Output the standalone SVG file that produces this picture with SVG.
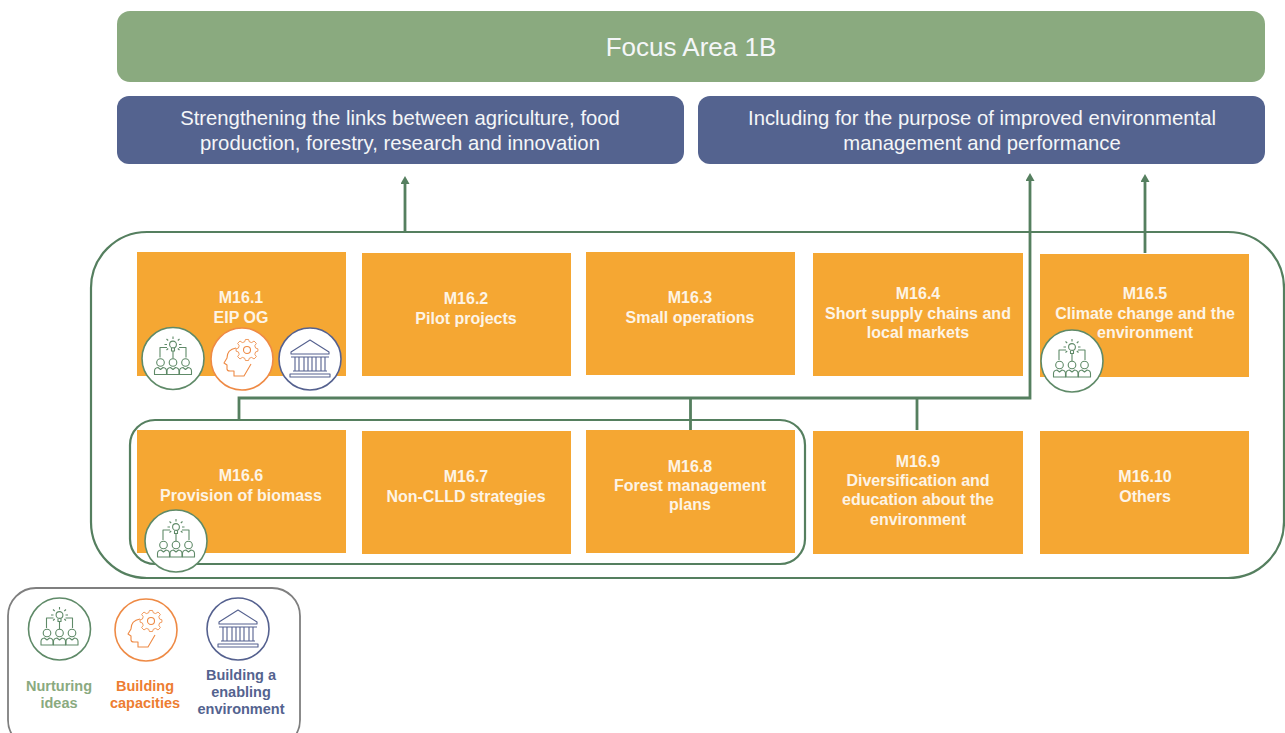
<svg xmlns="http://www.w3.org/2000/svg" width="1285" height="733" viewBox="0 0 1285 733">
<style>
text{font-family:"Liberation Sans",Arial,sans-serif;text-anchor:middle}
.m{fill:#f5a733}
.mt{font-size:16px;font-weight:700;fill:#fdf4e6}
.hd{font-size:20.300px;fill:#f4f6f8}
.lg{font-size:14.500px;font-weight:700}
.cn{fill:none;stroke:#557f5f;stroke-width:2.800}
.ol{fill:none;stroke:#557f5f;stroke-width:2.200}
.ic{fill:none;stroke-width:1.100;stroke-linejoin:round}
.g{stroke:#5f8a68}.o{stroke:#ee8a45}.b{stroke:#55618f}
.disc{fill:#fff;stroke-width:1.600}
</style>
<defs>
<marker id="ah" markerWidth="9" markerHeight="9" refX="1" refY="4.500" orient="auto" markerUnits="userSpaceOnUse" viewBox="0 0 9 9"><path d="M0 0L8 4.500L0 9Z" fill="#557f5f"/></marker>
<g id="ideas">
<circle class="disc g" r="31"/>
<g class="ic g">
<circle cx="0" cy="-14" r="3.400"/><path d="M-1.500-10.500V-7.500H1.500V-10.500M0-7.500V0"/>
<path d="M0-22V-19.500M-6.500-19.500L-4.800-18M6.500-19.500L4.800-18M-8.500-14H-6M8.500-14H6M-6.500-8.500L-4.800-10M6.500-8.500L4.800-10"/>
<path d="M-6-11H-13V-1M6-11H13V-1"/>
<circle cx="-12.500" cy="4" r="3.800"/><circle cx="0" cy="4" r="3.800"/><circle cx="12.500" cy="4" r="3.800"/>
<path d="M-18.500 16V12.500Q-18.500 9.500-15 9L-12.500 11L-10 9Q-6.500 9.500-6.500 12.500V16Z"/>
<path d="M-6 16V12.500Q-6 9.500-2.500 9L0 11L2.500 9Q6 9.500 6 12.500V16Z"/>
<path d="M6.500 16V12.500Q6.500 9.500 10 9L12.500 11L15 9Q18.500 9.500 18.500 12.500V16Z"/>
</g></g>
<g id="caps">
<circle class="disc o" r="31"/>
<g class="ic o">
<path d="M-6-11C-12-10-15-6-15-1L-18 4L-15 6V10Q-15 12-12 12H-8V17H2L9 5"/>
<circle cx="5" cy="-9" r="3.500"/>
<path transform="translate(5,-9) scale(.78) translate(-5,5.500)" d="M3-19H7L8-16L11-15L14-17L17-14L15-11L16-8L19-7V-4L16-3L15 0L17 3L14 6L11 4L8 5L7 8H3L2 5L-1 4L-4 6L-7 3L-5 0L-6-3L-9-4V-7L-6-8L-5-11L-7-14L-4-17L-1-15L2-16Z"/>
</g></g>
<g id="inst">
<circle class="disc b" r="31"/>
<g class="ic b" stroke-width="1.600">
<path d="M0-19L-19-7V-5H19V-7Z"/>
<path d="M-19-2H19M-17 12H17M-20 15H20V18H-20Z"/>
<path d="M-15-2V12M-11-2V12M-6-2V12M-2-2V12M2-2V12M6-2V12M11-2V12M15-2V12"/>
</g></g>
</defs>

<g id="focus-area"><rect x="117" y="11" width="1148" height="71" rx="13" fill="#8aaa7f"/><text class="hd" x="691" y="56" style="font-size:26px">Focus Area 1B</text></g>
<g id="objective-1"><rect x="117" y="96" width="567" height="68" rx="12" fill="#54638f"/><text class="hd" x="400" y="125">Strengthening the links between agriculture, food</text><text class="hd" x="400" y="150">production, forestry, research and innovation</text></g>
<g id="objective-2"><rect x="698" y="96" width="567" height="68" rx="12" fill="#54638f"/><text class="hd" x="982" y="125">Including for the purpose of improved environmental</text><text class="hd" x="982" y="150">management and performance</text></g>

<g id="measures-outline"><rect class="ol" x="91" y="232" width="1193" height="346" rx="56"/></g>

<g id="m16-1"><rect class="m" x="137" y="252" width="209" height="124"/><text class="mt" x="241" y="303">M16.1</text><text class="mt" x="241" y="323">EIP OG</text></g>
<g id="m16-2"><rect class="m" x="362" y="253" width="209" height="123"/><text class="mt" x="466" y="304">M16.2</text><text class="mt" x="466" y="324">Pilot projects</text></g>
<g id="m16-3"><rect class="m" x="586" y="252" width="209" height="123"/><text class="mt" x="690" y="303">M16.3</text><text class="mt" x="690" y="323">Small operations</text></g>
<g id="m16-4"><rect class="m" x="813" y="253" width="210" height="123"/><text class="mt" x="918" y="299">M16.4</text><text class="mt" x="918" y="319">Short supply chains and</text><text class="mt" x="918" y="338">local markets</text></g>
<g id="m16-5"><rect class="m" x="1040" y="254" width="209" height="123"/><text class="mt" x="1145" y="299">M16.5</text><text class="mt" x="1145" y="319">Climate change and the</text><text class="mt" x="1145" y="338">environment</text></g>
<g id="m16-6"><rect class="m" x="137" y="430" width="209" height="123"/><text class="mt" x="241" y="481">M16.6</text><text class="mt" x="241" y="501">Provision of biomass</text></g>
<g id="m16-7"><rect class="m" x="362" y="431" width="209" height="123"/><text class="mt" x="466" y="482">M16.7</text><text class="mt" x="466" y="502">Non-CLLD strategies</text></g>
<g id="m16-8"><rect class="m" x="586" y="430" width="209" height="123"/><text class="mt" x="690" y="472">M16.8</text><text class="mt" x="690" y="491">Forest management</text><text class="mt" x="690" y="510">plans</text></g>
<g id="m16-9"><rect class="m" x="813" y="431" width="210" height="123"/><text class="mt" x="918" y="467">M16.9</text><text class="mt" x="918" y="486">Diversification and</text><text class="mt" x="918" y="505">education about the</text><text class="mt" x="918" y="525">environment</text></g>
<g id="m16-10"><rect class="m" x="1040" y="431" width="209" height="123"/><text class="mt" x="1145" y="482">M16.10</text><text class="mt" x="1145" y="502">Others</text></g>

<g id="group-outline"><rect class="ol" x="130" y="420" width="675" height="144" rx="25"/></g>

<g id="connectors">
<path class="cn" d="M405 232V183" marker-end="url(#ah)"/>
<path class="cn" d="M1145 253V181" marker-end="url(#ah)"/>
<path class="cn" d="M239 420V398H1030V180" marker-end="url(#ah)"/>
<path class="cn" d="M690.500 398V430M917 398V430"/>
</g>

<g id="badges">
<use href="#ideas" x="173" y="358.500"/><use href="#caps" x="242" y="359"/><use href="#inst" x="310" y="359"/>
<use href="#ideas" x="1072" y="361"/><use href="#ideas" x="176" y="541"/>
</g>

<g id="legend">
<rect x="8" y="588" width="292" height="160" rx="28" fill="#fff" stroke="#7f7f7f" stroke-width="1.800"/>
<use href="#ideas" x="59.500" y="629"/><use href="#caps" x="146" y="630"/><use href="#inst" x="238" y="629"/>
<text class="lg" fill="#8aaa7f" x="59" y="691">Nurturing</text><text class="lg" fill="#8aaa7f" x="59" y="708">ideas</text>
<text class="lg" fill="#ed7d31" x="145" y="691">Building</text><text class="lg" fill="#ed7d31" x="145" y="708">capacities</text>
<text class="lg" fill="#54638f" x="241" y="680">Building a</text><text class="lg" fill="#54638f" x="241" y="697">enabling</text><text class="lg" fill="#54638f" x="241" y="714">environment</text>
</g>
</svg>
